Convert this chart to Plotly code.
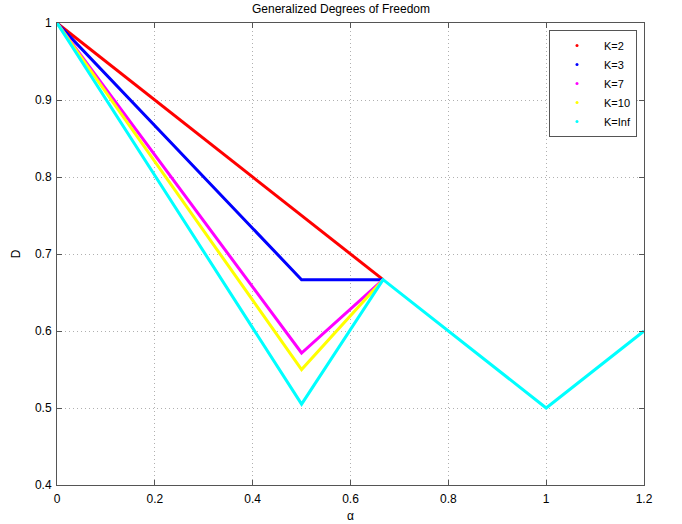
import plotly.graph_objects as go

# Data
alpha_k2 = [0, 2/3]
d_k2 = [1, 2/3]

alpha_k3 = [0, 0.5, 2/3]
d_k3 = [1, 2/3, 2/3]

alpha_k7 = [0, 0.5, 2/3]
d_k7 = [1, 4/7, 2/3]

alpha_k10 = [0, 0.5, 2/3]
d_k10 = [1, 0.55, 2/3]

alpha_kinf = [0, 0.5, 2/3, 1, 1.2]
d_kinf = [1, 0.505, 2/3, 0.5, 0.6]

series_names = ["K=2", "K=3", "K=7", "K=10", "K=Inf"]
series_colors = ["#ff0000", "#0000ff", "#ff00ff", "#ffff00", "#00ffff"]

x_ticks = [0, 0.2, 0.4, 0.6, 0.8, 1, 1.2]
x_ticklabels = ["0", "0.2", "0.4", "0.6", "0.8", "1", "1.2"]
y_ticks = [0.4, 0.5, 0.6, 0.7, 0.8, 0.9, 1]
y_ticklabels = ["0.4", "0.5", "0.6", "0.7", "0.8", "0.9", "1"]

series = [
    (alpha_k2, d_k2),
    (alpha_k3, d_k3),
    (alpha_k7, d_k7),
    (alpha_k10, d_k10),
    (alpha_kinf, d_kinf),
]

fig = go.Figure()
for (xs, ys), name, color in zip(series, series_names, series_colors):
    fig.add_trace(go.Scatter(x=xs, y=ys, mode="lines", name=name,
                             line=dict(color=color, width=3),
                             showlegend=False))
# legend entries (MATLAB-style dot markers)
for name, color in zip(series_names, series_colors):
    fig.add_trace(go.Scatter(x=[None], y=[None], mode="markers", name=name,
                             marker=dict(color=color, size=3)))

font_family = "Liberation Sans, Arial, sans-serif"
axis_common = dict(
    showgrid=True, gridcolor="#b0b0b0", griddash="1px,3px", gridwidth=1,
    zeroline=False, showline=True, linecolor="#555555", linewidth=1,
    mirror="ticks", ticks="inside", ticklen=5, tickcolor="#555555",
    tickfont=dict(family=font_family, size=12, color="black"),
    automargin=False,
)

W, H = 682, 524
L, R, T, B = 57, 38, 23, 39
plot_w, plot_h = W - L - R, H - T - B

fig.update_layout(
    width=W, height=H,
    paper_bgcolor="white", plot_bgcolor="white",
    margin=dict(l=L, r=R, t=T, b=B),
    title=dict(text="Generalized Degrees of Freedom", x=0.5, xanchor="center",
               yref="container", y=1 - 9 / H, yanchor="middle",
               font=dict(family=font_family, size=12, color="black")),
    xaxis=dict(range=[0, 1.2], tickvals=x_ticks, ticktext=x_ticklabels,
               ticklabelstandoff=3,
               title=dict(text="α", standoff=6,
                          font=dict(family=font_family, size=12, color="black")),
               **axis_common),
    yaxis=dict(range=[0.4, 1], tickvals=y_ticks, ticktext=y_ticklabels,
               ticklabelstandoff=2,
               title=dict(text="D", standoff=11,
                          font=dict(family=font_family, size=12, color="black")),
               **axis_common),
    legend=dict(x=(549 - L) / plot_w, y=(H - B - 30) / plot_h,
                xanchor="left", yanchor="top",
                bgcolor="white", bordercolor="#555555", borderwidth=1,
                font=dict(family=font_family, size=11, color="black"),
                itemwidth=44, tracegroupgap=0),
    showlegend=True,
)

fig.write_html("out.html", config={"displayModeBar": False},
               post_script="document.body.style.margin='0';")
